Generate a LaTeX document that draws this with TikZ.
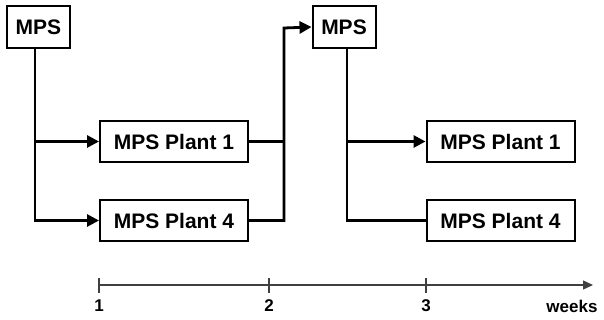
\documentclass[tikz,border=0pt]{standalone}
\usepackage{fontspec}
\setmainfont{Liberation Sans}
\usetikzlibrary{arrows.meta,positioning}

\tikzset{
  plan/.style={draw, line width=2pt, inner sep=0pt, font=\fontsize{21}{24}\selectfont\bfseries},
  mpsbox/.style={plan, minimum width=63pt, minimum height=42pt},
  plantbox/.style={plan, minimum width=148pt, minimum height=41pt},
  flow/.style={line width=2.8pt, -{Triangle[length=12pt,width=12pt]}},
  link/.style={line width=2.8pt},
  ticklabel/.style={font=\fontsize{17}{20}\selectfont\bfseries}
}

\begin{document}
\begin{tikzpicture}[x=1pt,y=-1pt]
    \useasboundingbox (0,0) rectangle (604,320);
    % first week
    \node[mpsbox] (mpsA) at (38.5,27) {MPS};
    \node[plantbox] (plantA1) at (174,141.5) {MPS Plant 1};
    \node[plantbox] (plantA4) at (174,220.5) {MPS Plant 4};
    % second week
    \node[mpsbox] (mpsB) at (344,27) {MPS};
    \node[plantbox] (plantB1) at (500.5,141.5) {MPS Plant 1};
    \node[plantbox] (plantB4) at (500.5,220.5) {MPS Plant 4};
    % branches
    \coordinate (splitA) at (35,48);
    \coordinate (joinA) at (284,28);
    \coordinate (splitB) at (347,48);
    \draw[flow] (splitA) |- (plantA1.west);
    \draw[flow] (splitA) |- (plantA4.west);
    \draw[link] (plantA1.east) -- (plantA1.east -| joinA);
    \draw[flow] (plantA4.east) -| (joinA) -- (mpsB.west);
    \draw[flow] (splitB) |- (plantB1.west);
    \draw[link] (splitB) |- (plantB4.west);
    % time axis
    \coordinate (axisL) at (99,285);
    \coordinate (axisR) at (593,285);
    \draw[line width=1.3pt, black!75, -{Triangle[length=10pt,width=9pt]}] (axisL) -- (axisR);
    \foreach \x/\w in {99/1, 269/2, 426/3} {
      \draw[line width=1.3pt, black!75] (\x,278) -- (\x,293);
      \node[ticklabel] (week\w) at (\x,306) {\w};
    }
    \node[ticklabel] (weeks) at (572,306) {weeks};
  \end{tikzpicture}
\end{document}
